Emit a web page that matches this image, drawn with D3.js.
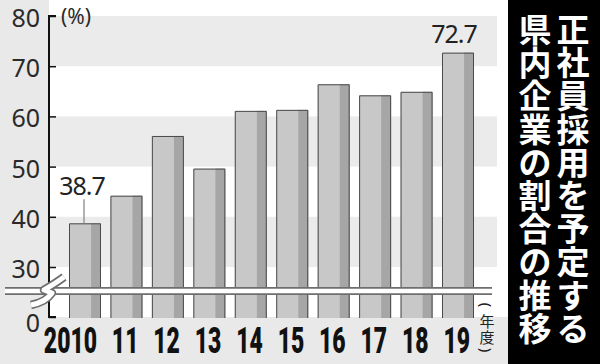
<!DOCTYPE html>
<html lang="ja">

<head>
    <meta charset="UTF-8">
    <script src="https://cdn.jsdelivr.net/npm/d3@7/dist/d3.min.js"></script>
    <title>正社員採用を予定する県内企業の割合の推移</title>
    <style>
        body { margin: 0; background: #e9e9e9; }
        svg { display: block; }
    </style>
</head>

<body>
    <svg id="mainsvg" width="600" height="364"></svg>
    <script>
        // data
        const years = ['2010', '11', '12', '13', '14', '15', '16', '17', '18', '19']
        const rates = [38.7, 44.2, 56.1, 49.6, 61.1, 61.3, 66.4, 64.2, 64.9, 72.7]
        const labelled = ['2010', '19']
        const yTicks = [0, 30, 40, 50, 60, 70, 80]
        const titleRight = '正社員採用を予定する'
        const titleLeft = '県内企業の割合の推移'

        const svg = d3.select('#mainsvg')
        const width = +svg.attr('width')
        const height = +svg.attr('height')
        const axisX = 49
        const plotRight = 497
        const panelX = 508

        // broken axis: 0 sits just below 30
        const yScale = d3.scaleLinear()
            .domain([0, 30, 80])
            .range([317, 267, 16])
        const xScale = d3.scaleBand()
            .domain(years)
            .range([69, 474])
            .paddingInner(0.228)
            .paddingOuter(0)

        // background
        svg.append('rect').attr('width', width).attr('height', height).attr('fill', '#e9e9e9')
        svg.append('rect')
            .attr('x', axisX).attr('y', 0)
            .attr('width', panelX - axisX).attr('height', yScale(0))
            .attr('fill', '#ffffff')
        const bands = [[70, 80], [50, 60], [30, 40]]
        svg.selectAll('.band').data(bands).join('rect')
            .attr('class', 'band')
            .attr('x', axisX).attr('width', plotRight - axisX)
            .attr('y', d => yScale(d[1]))
            .attr('height', d => yScale(d[0]) - yScale(d[1]))
            .attr('fill', '#ebebeb')

        // bars
        const bw = xScale.bandwidth()
        const bars = svg.append('g').selectAll('g').data(years).join('g')
            .attr('transform', d => `translate(${xScale(d)},0)`)
        bars.append('rect')
            .attr('y', (d, i) => yScale(rates[i]))
            .attr('width', bw)
            .attr('height', (d, i) => yScale(0) + 1 - yScale(rates[i]))
            .attr('fill', '#c8c8c8')
        bars.append('rect')
            .attr('x', bw * 0.69)
            .attr('y', (d, i) => yScale(rates[i]))
            .attr('width', bw * 0.31)
            .attr('height', (d, i) => yScale(0) + 1 - yScale(rates[i]))
            .attr('fill', '#a6a6a6')
        bars.append('path')
            .attr('d', (d, i) => `M0.5,${yScale(0) + 1}V${yScale(rates[i]) + 0.5}H${bw - 0.5}V${yScale(0) + 1}`)
            .attr('fill', 'none')
            .attr('stroke', '#4a4a4a')
            .attr('stroke-width', 1)

        // y axis
        const yAxis = d3.axisRight(yScale).tickValues(yTicks).tickSize(7).tickFormat('')
        const ag = svg.append('g').attr('transform', `translate(${axisX},0)`).call(yAxis)
        ag.select('.domain').attr('d', `M7,${yScale(80)}H0V${yScale(0)}H7`)
            .attr('stroke', '#111').attr('stroke-width', 2)
        ag.selectAll('.tick line').attr('stroke', '#111').attr('stroke-width', 1.5)

        svg.append('g').selectAll('text').data(yTicks).join('text')
            .attr('x', 40)
            .attr('y', d => d === 0 ? 332 : yScale(d) + 11)
            .attr('text-anchor', 'end')
            .attr('font-family', 'Noto Sans, sans-serif')
            .attr('font-size', 25)
            .attr('fill', '#2a2a2a')
            .text(d => d)

        svg.append('text')
            .attr('x', 61).attr('y', 24)
            .attr('font-family', 'Noto Sans, sans-serif')
            .attr('font-size', 21)
            .attr('fill', '#2a2a2a')
            .text('(%)')

        // axis break
        const breakY = 291
        const brk = svg.append('g').attr('fill', 'none')
        brk.append('path').attr('d', `M5,${breakY}H${plotRight - 5}`)
            .attr('stroke', '#6e6e6e').attr('stroke-width', 8)
        brk.append('path').attr('d', `M5,${breakY}H${plotRight - 5}`)
            .attr('stroke', '#ffffff').attr('stroke-width', 4.5)
        const zig = 'M31,305 Q46,302 52,293 L44,290 Q56,283 64,277'
        brk.append('path').attr('d', zig)
            .attr('stroke', '#6e6e6e').attr('stroke-width', 8.5).attr('stroke-linejoin', 'round')
        brk.append('path').attr('d', zig)
            .attr('stroke', '#ffffff').attr('stroke-width', 5).attr('stroke-linejoin', 'round')

        // value labels
        years.forEach((y, i) => {
            if (!labelled.includes(y)) return
            const cx = xScale(y) + bw / 2
            const top = yScale(rates[i])
            if (y === '2010') {
                svg.append('line')
                    .attr('x1', cx - 1).attr('x2', cx - 1)
                    .attr('y1', top - 24).attr('y2', top)
                    .attr('stroke', '#999').attr('stroke-width', 1.5)
            }
            svg.append('text')
                .attr('x', y === '2010' ? cx - 3 : cx - 4)
                .attr('y', y === '2010' ? top - 28 : top - 10)
                .attr('text-anchor', 'middle')
                .attr('font-family', 'Noto Sans, sans-serif')
                .attr('font-size', 25)
                .attr('letter-spacing', -1)
                .attr('fill', '#222')
                .text(rates[i])
        })

        // x labels, last two digits centred under each bar
        svg.append('g').selectAll('text').data(years).join('text')
            .attr('transform', d => `translate(${xScale(d) + bw / 2 + 12},353) scale(0.62,1)`)
            .attr('text-anchor', 'end')
            .attr('font-family', 'Roboto, sans-serif')
            .attr('font-weight', 900)
            .attr('font-size', 37)
            .attr('fill', '#111')
            .text(d => d)

        // (年度), stacked; parens turned on their side
        const nendo = ['(', '年', '度', ')']
        const nendoY = [305, 320, 336, 350]
        svg.append('g').selectAll('text').data(nendo).join('text')
            .attr('transform', (d, i) => `translate(487,${nendoY[i]})` + (i === 0 || i === 3 ? ' rotate(90)' : ''))
            .attr('text-anchor', 'middle')
            .attr('dominant-baseline', 'central')
            .attr('font-family', (d, i) => i === 0 || i === 3 ? 'Noto Sans, sans-serif' : 'Noto Sans CJK JP, sans-serif')
            .attr('font-size', 15)
            .attr('fill', '#222')
            .text(d => d)

        // title panel
        svg.append('rect')
            .attr('x', panelX).attr('y', 0)
            .attr('width', width - panelX).attr('height', height)
            .attr('fill', '#000')
        const cols = [{ txt: titleRight, x: 573 }, { txt: titleLeft, x: 535 }]
        cols.forEach(c => {
            svg.append('g').selectAll('text').data(Array.from(c.txt)).join('text')
                .attr('x', c.x)
                .attr('y', (d, i) => 28 + i * 33.2)
                .attr('text-anchor', 'middle')
                .attr('dominant-baseline', 'central')
                .attr('font-family', 'Noto Sans CJK JP, sans-serif')
                .attr('font-weight', 700)
                .attr('font-size', 33)
                .attr('fill', '#fff')
                .text(d => d)
        })
    </script>
</body>

</html>
